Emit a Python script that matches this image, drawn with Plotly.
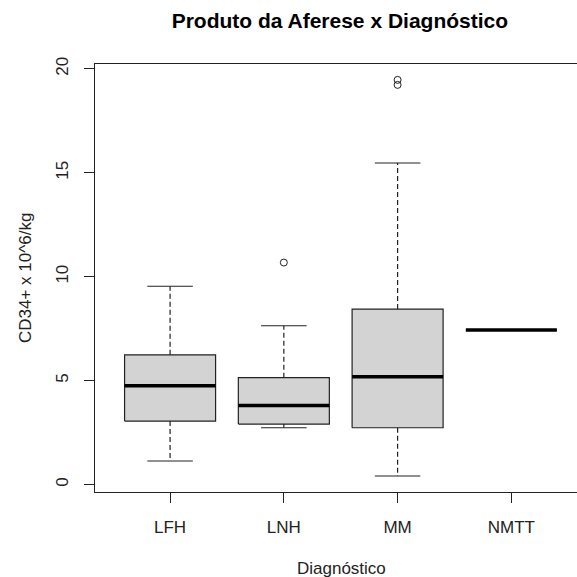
import plotly.graph_objects as go

# Summary statistics of CD34+ yield per diagnosis
categories = ["LFH", "LNH", "MM", "NMTT"]
whisker_low = [1.13, 2.73, 0.41, 7.43]
q1 = [3.05, 2.91, 2.73, 7.43]
median = [4.75, 3.80, 5.19, 7.43]
q3 = [6.24, 5.14, 8.44, 7.43]
whisker_high = [9.54, 7.64, 15.47, 7.43]

outlier_group = ["LNH", "MM", "MM"]
outlier_value = [10.68, 19.47, 19.23]

y_ticks = [0, 5, 10, 15, 20]

FONT = "Liberation Sans, Arial, sans-serif"
BOX_HALF = 0.4     # boxwex 0.8
CAP_HALF = 0.2     # staple width = half the box

pos = {c: i + 1 for i, c in enumerate(categories)}

fig = go.Figure()

# box bodies
for i, c in enumerate(categories):
    x0, x1 = pos[c] - BOX_HALF, pos[c] + BOX_HALF
    fig.add_trace(go.Scatter(
        x=[x0, x1, x1, x0, x0],
        y=[q1[i], q1[i], q3[i], q3[i], q1[i]],
        mode="lines", fill="toself", fillcolor="#d3d3d3",
        line=dict(color="#222222", width=1.2),
        hoverinfo="skip", showlegend=False,
    ))

# dashed whiskers
wx, wy = [], []
for i, c in enumerate(categories):
    wx += [pos[c], pos[c], None, pos[c], pos[c], None]
    wy += [q3[i], whisker_high[i], None, q1[i], whisker_low[i], None]
fig.add_trace(go.Scatter(
    x=wx, y=wy, mode="lines",
    line=dict(color="#222222", width=1.2, dash="5px,3px"),
    hoverinfo="skip", showlegend=False,
))

# whisker caps
sx, sy = [], []
for i, c in enumerate(categories):
    sx += [pos[c] - CAP_HALF, pos[c] + CAP_HALF, None,
           pos[c] - CAP_HALF, pos[c] + CAP_HALF, None]
    sy += [whisker_high[i], whisker_high[i], None,
           whisker_low[i], whisker_low[i], None]
fig.add_trace(go.Scatter(
    x=sx, y=sy, mode="lines",
    line=dict(color="#222222", width=1.2),
    hoverinfo="skip", showlegend=False,
))

# medians
mx, my = [], []
for i, c in enumerate(categories):
    mx += [pos[c] - BOX_HALF, pos[c] + BOX_HALF, None]
    my += [median[i], median[i], None]
fig.add_trace(go.Scatter(
    x=mx, y=my, mode="lines",
    line=dict(color="black", width=3.5),
    hoverinfo="skip", showlegend=False,
))

# outliers
fig.add_trace(go.Scatter(
    x=[pos[c] for c in outlier_group], y=outlier_value,
    mode="markers",
    marker=dict(symbol="circle-open", size=7, color="#222222",
                line=dict(width=1)),
    hoverinfo="skip", showlegend=False,
))

fig.update_layout(
    width=577, height=577,
    margin=dict(l=95, r=0, t=64, b=85),
    paper_bgcolor="white", plot_bgcolor="white",
    font=dict(family=FONT, size=17, color="black"),
    showlegend=False,
    title=dict(
        text="<b>Produto da Aferese x Diagnóstico</b>",
        x=0.508, xref="paper", xanchor="center",
        y=1 - 21 / 577, yref="container", yanchor="middle",
        font=dict(family=FONT, size=21, color="black"),
    ),
    xaxis=dict(
        range=[0.34, 4.577],
        tickmode="array", tickvals=[pos[c] for c in categories],
        ticktext=categories,
        ticks="outside", ticklen=10, tickwidth=1, tickcolor="#222222",
        showline=True, linecolor="#222222", linewidth=1.2, mirror=True,
        showgrid=False, zeroline=False,
        ticklabelstandoff=9,
        tickfont=dict(family=FONT, size=17, color="#222222"),
    ),
    yaxis=dict(
        range=[-0.361, 20.235],
        tickmode="array", tickvals=y_ticks,
        ticktext=[str(v) for v in y_ticks],
        ticks="outside", ticklen=10, tickwidth=1, tickcolor="#222222",
        showline=True, linecolor="#222222", linewidth=1.2,
        showgrid=False, zeroline=False,
        tickangle=-90, ticklabelstandoff=9,
        tickfont=dict(family=FONT, size=17, color="#222222"),
    ),
    annotations=[
        dict(text="Diagnóstico", xref="paper", yref="paper",
             x=(341.7 - 95) / 482, y=-(568 - 492) / 428,
             xanchor="center", yanchor="middle", showarrow=False,
             font=dict(family=FONT, size=17, color="#222222")),
        dict(text="CD34+ x 10^6/kg", xref="paper", yref="paper",
             x=-(95 - 25) / 482, y=0.5, textangle=-90,
             xanchor="center", yanchor="middle", showarrow=False,
             font=dict(family=FONT, size=17, color="#222222")),
    ],
)

fig.write_html("out.html")
